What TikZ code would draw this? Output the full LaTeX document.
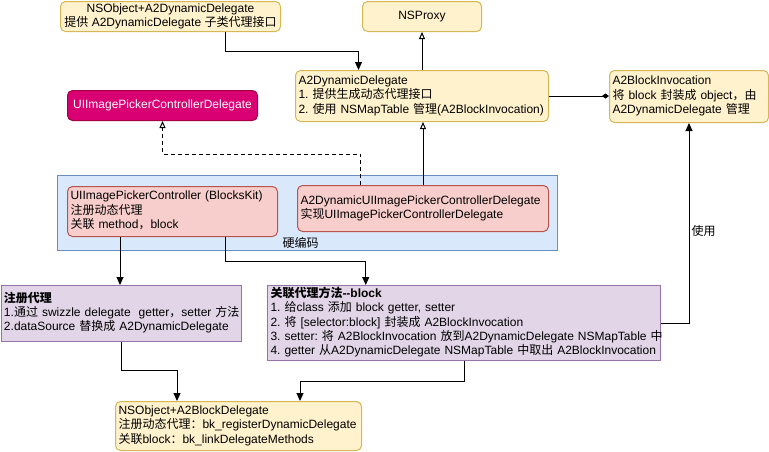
\documentclass[tikz,border=0pt]{standalone}
\usepackage{fontspec}
\setmainfont{Liberation Sans}
\newfontfamily\zhfont{Noto Sans CJK SC}
\usepackage{tikz}
\usetikzlibrary{arrows.meta}
\usetikzlibrary{positioning}
\frenchspacing

\definecolor{infoFill}{HTML}{FFF2CC}
\definecolor{infoLine}{HTML}{D6B656}
\definecolor{protoFill}{HTML}{D80073}
\definecolor{protoLine}{HTML}{A50040}
\definecolor{codeFill}{HTML}{DAE8FC}
\definecolor{codeLine}{HTML}{6C8EBF}
\definecolor{classFill}{HTML}{F8CECC}
\definecolor{classLine}{HTML}{B85450}
\definecolor{stepFill}{HTML}{E1D5E7}
\definecolor{stepLine}{HTML}{9673A6}

% Chinese characters switch to the CJK font
\newcount\hanchar
\hanchar="4E00
\loop
  \XeTeXcharclass\hanchar=1
  \advance\hanchar by 1
\ifnum\hanchar<"A000\repeat
\XeTeXcharclass"FF0C=1
\XeTeXcharclass"FF1A=1
\XeTeXinterchartoks 0 1 = {\zhfont}
\XeTeXinterchartoks 4095 1 = {\zhfont}
\XeTeXinterchartoks 1 0 = {\rmfamily}
\XeTeXinterchartoks 1 4095 = {\rmfamily}
\XeTeXinterchartoks 1 1 = {}
\XeTeXinterchartokenstate=1

\newcommand{\rows}[2][l]{\begin{tabular}{@{}#1@{}}#2\end{tabular}}

\begin{document}
\begin{tikzpicture}[x=1pt, y=-1pt,
    box/.style={line width=1pt, font=\fontsize{12}{14.4}\selectfont,
        inner xsep=3pt, inner ysep=0pt},
    infobox/.style={box, draw=infoLine, fill=infoFill, rounded corners=5pt},
    protobox/.style={box, draw=protoLine, fill=protoFill, text=white, rounded corners=5pt},
    codebox/.style={box, draw=codeLine, fill=codeFill},
    classbox/.style={box, draw=classLine, fill=classFill, rounded corners=5pt},
    stepbox/.style={box, draw=stepLine, fill=stepFill},
    leftbox/.style={anchor=north west, align=left},
    tag/.style={font=\fontsize{12}{14.4}\selectfont, inner sep=0pt},
    arr/.style={-{Triangle[length=8pt,width=7pt]}},
    inherit/.style={-{Triangle[fill=white,length=7pt,width=6pt]}},
    own/.style={-{Diamond[length=7pt,width=5pt]}}]

    \useasboundingbox (0,0) rectangle (769,451);

    \node[infobox, minimum width=220pt, minimum height=30pt, anchor=north west] (catDyn) at (60,1)
        {\rows[c]{NSObject+A2DynamicDelegate\\提供 A2DynamicDelegate 子类代理接口}};
    \node[infobox, minimum width=119pt, minimum height=30pt, anchor=north west] (proxy) at (362,1)
        {\rows[c]{NSProxy}};
    \node[infobox, leftbox, text width=247pt, minimum height=51pt] (dynDel) at (295,70)
        {\rows{A2DynamicDelegate\\1. 提供生成动态代理接口\\2. 使用 NSMapTable 管理(A2BlockInvocation)}};
    \node[infobox, leftbox, text width=153pt, minimum height=52pt] (blockInv) at (609,70)
        {\rows{A2BlockInvocation\\将 block 封装成 object，由\\A2DynamicDelegate 管理}};
    \node[protobox, minimum width=190pt, minimum height=30pt, anchor=north west] (pickerProto) at (67,90)
        {\rows[c]{UIImagePickerControllerDelegate}};

    % hard-coded group
    \node[codebox, minimum width=500pt, minimum height=75pt, anchor=north west] (hardcode) at (57,175) {};
    \node[tag, above=2pt of hardcode.south, xshift=-7pt] (hardLabel) {硬编码};
    \node[classbox, leftbox, text width=204pt, minimum height=50pt] (pickerKit) at (67,186)
        {\rows{UIImagePickerController (BlocksKit)\\注册动态代理\\关联 method，block}};
    \node[classbox, leftbox, text width=245pt, minimum height=46pt] (pickerDyn) at (297,185)
        {\rows{A2DynamicUIImagePickerControllerDelegate\\实现UIImagePickerControllerDelegate}};

    \node[stepbox, leftbox, text width=234.5pt, minimum height=56pt] (register) at (0.5,285)
        {\rows{\textbf{注册代理}\\1.通过 swizzle delegate\ \ getter，setter 方法\\2.dataSource 替换成 A2DynamicDelegate}};
    \node[stepbox, leftbox, text width=387pt, minimum height=75pt] (linkBlock) at (267,285)
        {\rows{\textbf{关联代理方法-{}-block}\\1. 给class 添加 block getter, setter\\2. 将 [selector:block] 封装成 A2BlockInvocation\\3. setter: 将 A2BlockInvocation 放到A2DynamicDelegate NSMapTable 中\\4. getter 从A2DynamicDelegate NSMapTable 中取出 A2BlockInvocation}};
    \node[infobox, leftbox, text width=240pt, minimum height=49pt] (catBlock) at (115,401)
        {\rows{NSObject+A2BlockDelegate\\注册动态代理：bk\_registerDynamicDelegate\\关联block：bk\_linkDelegateMethods}};

    \begin{scope}[line width=1pt]
        \draw[arr] ([xshift=55pt]catDyn.south) -- ++(0,19) -| ([xshift=-63.5pt]dynDel.north);
        \draw[inherit] (dynDel.north) -- (proxy.south);
        \draw[inherit] (pickerDyn.north) -- (pickerDyn.north |- dynDel.south);
        \draw[inherit, dash pattern=on 4pt off 3pt] ([xshift=-62.5pt]pickerDyn.north) -- ++(0,-31) -| (pickerProto.south);
        \draw[own] (dynDel.east) -- (dynDel.east -| blockInv.west);
        \draw[arr] (linkBlock.east) -| node[tag, anchor=west, pos=0.73, xshift=2pt] (useLabel) {使用} (blockInv.south);
        \draw[arr] ([xshift=-52.5pt]pickerKit.south) -- ([xshift=-52.5pt]pickerKit.south |- register.north);
        \draw[arr] ([xshift=52.5pt]pickerKit.south) -- ++(0,24) -| ([xshift=-98.25pt]linkBlock.north);
        \draw[arr] (register.south) -- ++(0,28) -| ([xshift=-61.5pt]catBlock.north);
        \draw[arr] (linkBlock.south) -- ++(0,20) -| ([xshift=61.5pt]catBlock.north);
    \end{scope}
\end{tikzpicture}
\end{document}
